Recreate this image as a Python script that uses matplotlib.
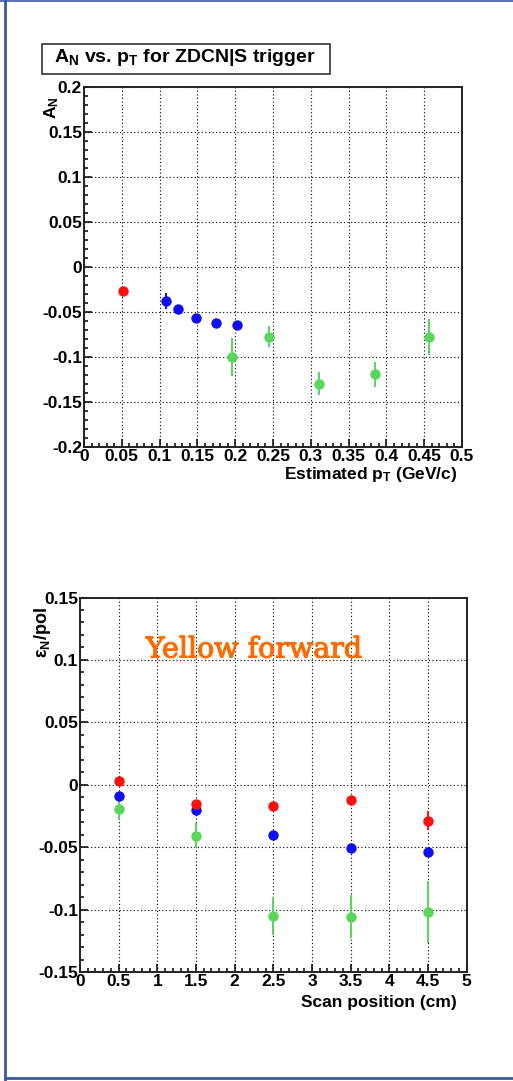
import matplotlib
matplotlib.use("Agg")
import matplotlib.pyplot as plt
import matplotlib.patheffects as pe
from matplotlib.lines import Line2D
from matplotlib.patches import Rectangle
from matplotlib.ticker import MultipleLocator, FuncFormatter

plt.rcParams["font.family"] = ["Liberation Sans", "DejaVu Sans"]
plt.rcParams["font.weight"] = "bold"
plt.rcParams["axes.unicode_minus"] = False
plt.rcParams["mathtext.fontset"] = "custom"
plt.rcParams["mathtext.rm"] = "Liberation Sans:bold"
plt.rcParams["mathtext.bf"] = "Liberation Sans:bold"
plt.rcParams["mathtext.it"] = "Liberation Sans:bold"

# ---- A_N vs pT (ZDCN|S trigger) ----
pt_red = [0.052]
an_red = [-0.0265]
an_red_err = [0.003]

pt_blue = [0.108, 0.124, 0.148, 0.175, 0.202]
an_blue = [-0.0374, -0.0467, -0.0567, -0.0626, -0.0648]
an_blue_err = [0.009, 0.003, 0.003, 0.003, 0.003]

pt_green = [0.196, 0.245, 0.311, 0.385, 0.456]
an_green = [-0.0996, -0.0774, -0.1296, -0.1193, -0.0778]
an_green_err = [0.021, 0.012, 0.013, 0.014, 0.0195]

# ---- eps_N/pol vs scan position (Yellow forward) ----
scan_pos = [0.5, 1.5, 2.5, 3.5, 4.5]
eps_red = [0.0035, -0.0152, -0.0171, -0.0120, -0.0286]
eps_red_err = [0.003, 0.003, 0.003, 0.003, 0.0075]
eps_blue = [-0.0088, -0.0200, -0.0398, -0.0504, -0.0540]
eps_blue_err = [0.002, 0.002, 0.002, 0.002, 0.003]
eps_green = [-0.0190, -0.0408, -0.1048, -0.1054, -0.1016]
eps_green_err = [0.009, 0.010, 0.015, 0.017, 0.025]

RED = "#ff1010"
BLUE = "#1010ee"
GREEN = "#5ad65a"

W, H = 513, 1081
fig = plt.figure(figsize=(W / 100, H / 100), dpi=100)
fig.patch.set_facecolor("white")


def frac_axes(x0, x1, y0, y1):
    return fig.add_axes([x0 / W, 1 - y1 / H, (x1 - x0) / W, (y1 - y0) / H])


def tick_text(v, pos):
    if abs(v) < 1e-9:
        return "0"
    return "%g" % round(v, 6)


def style_axes(ax, xmin, xmax, xmaj, xmin_step, ymin, ymax, ymaj, ymin_step):
    ax.set_xlim(xmin, xmax)
    ax.set_ylim(ymin, ymax)
    ax.xaxis.set_major_locator(MultipleLocator(xmaj))
    ax.xaxis.set_minor_locator(MultipleLocator(xmin_step))
    ax.yaxis.set_major_locator(MultipleLocator(ymaj))
    ax.yaxis.set_minor_locator(MultipleLocator(ymin_step))
    fmt = FuncFormatter(tick_text)
    ax.xaxis.set_major_formatter(fmt)
    ax.yaxis.set_major_formatter(fmt)
    ax.tick_params(which="both", direction="in", top=False, right=False,
                   labelsize=12.5, width=1.1, colors="black", pad=1.5)
    ax.tick_params(which="major", length=6)
    ax.tick_params(which="minor", length=3)
    for lab in ax.get_xticklabels() + ax.get_yticklabels():
        lab.set_fontweight("bold")
    ax.grid(True, which="major", color="black", linestyle=(0, (1, 2.2)), linewidth=0.8)
    for s in ax.spines.values():
        s.set_linewidth(1.4)
        s.set_color("#222222")
    ax.set_axisbelow(True)


def points(ax, x, y, yerr, color):
    ax.errorbar(x, y, yerr=yerr, fmt="o", color=color, markersize=7.5,
                elinewidth=1.4, capsize=2.2, capthick=1.4, markeredgewidth=0, zorder=5)


# Top panel
ax1 = frac_axes(84, 462, 87, 447)
style_axes(ax1, 0, 0.5, 0.05, 0.01, -0.2, 0.2, 0.05, 0.01)
points(ax1, pt_red, an_red, an_red_err, RED)
points(ax1, pt_blue, an_blue, an_blue_err, BLUE)
points(ax1, pt_green, an_green, an_green_err, GREEN)
ax1.text(-0.085, 0.975, r"A$_{\mathbf{N}}$", transform=ax1.transAxes, rotation=90,
         ha="center", va="top", fontsize=12.5, fontweight="bold")
ax1.text(0.988, -0.05, r"Estimated p$_{\mathbf{T}}$ (GeV/c)", transform=ax1.transAxes,
         ha="right", va="top", fontsize=12.5, fontweight="bold")

# Title box
fig.patches.append(Rectangle((42 / W, 1 - 74 / H), 288 / W, 30 / H, transform=fig.transFigure,
                             facecolor="white", edgecolor="#444444", linewidth=1.3))
fig.text(185 / W, 1 - 58 / H, r"A$_{\mathbf{N}}$ vs. p$_{\mathbf{T}}$ for ZDCN|S trigger",
         ha="center", va="center", fontsize=14, fontweight="bold")

# Bottom panel
ax2 = frac_axes(80, 466.7, 597.5, 972.3)
style_axes(ax2, 0, 5, 0.5, 0.1, -0.15, 0.15, 0.05, 0.01)
points(ax2, scan_pos, eps_green, eps_green_err, GREEN)
points(ax2, scan_pos, eps_blue, eps_blue_err, BLUE)
points(ax2, scan_pos, eps_red, eps_red_err, RED)
ax2.text(-0.098, 0.975, "ε$_{\\mathbf{N}}$/pol", transform=ax2.transAxes, rotation=90,
         ha="center", va="top", fontsize=13, fontweight="bold")
ax2.text(0.975, -0.06, "Scan position (cm)", transform=ax2.transAxes,
         ha="right", va="top", fontsize=12.5, fontweight="bold")
ax2.text(0.45, 0.86, "Yellow forward", transform=ax2.transAxes, ha="center", va="center",
         fontsize=20.5, color="#ff6a00", family="DejaVu Serif", fontweight="normal",
         path_effects=[pe.withStroke(linewidth=0.8, foreground="#ff6a00")])

# Frame around the figure
bc = "#3a5a9c"
fig.add_artist(Line2D([5 / W, 5 / W], [0, 1], transform=fig.transFigure, color=bc, linewidth=2.0))
fig.add_artist(Line2D([0, 1], [1 - 0.8 / H, 1 - 0.8 / H], transform=fig.transFigure, color=bc, linewidth=1.2))
fig.add_artist(Line2D([5 / W, 1], [3 / H, 3 / H], transform=fig.transFigure, color=bc, linewidth=2.0))

fig.savefig("out.png", dpi=100)
